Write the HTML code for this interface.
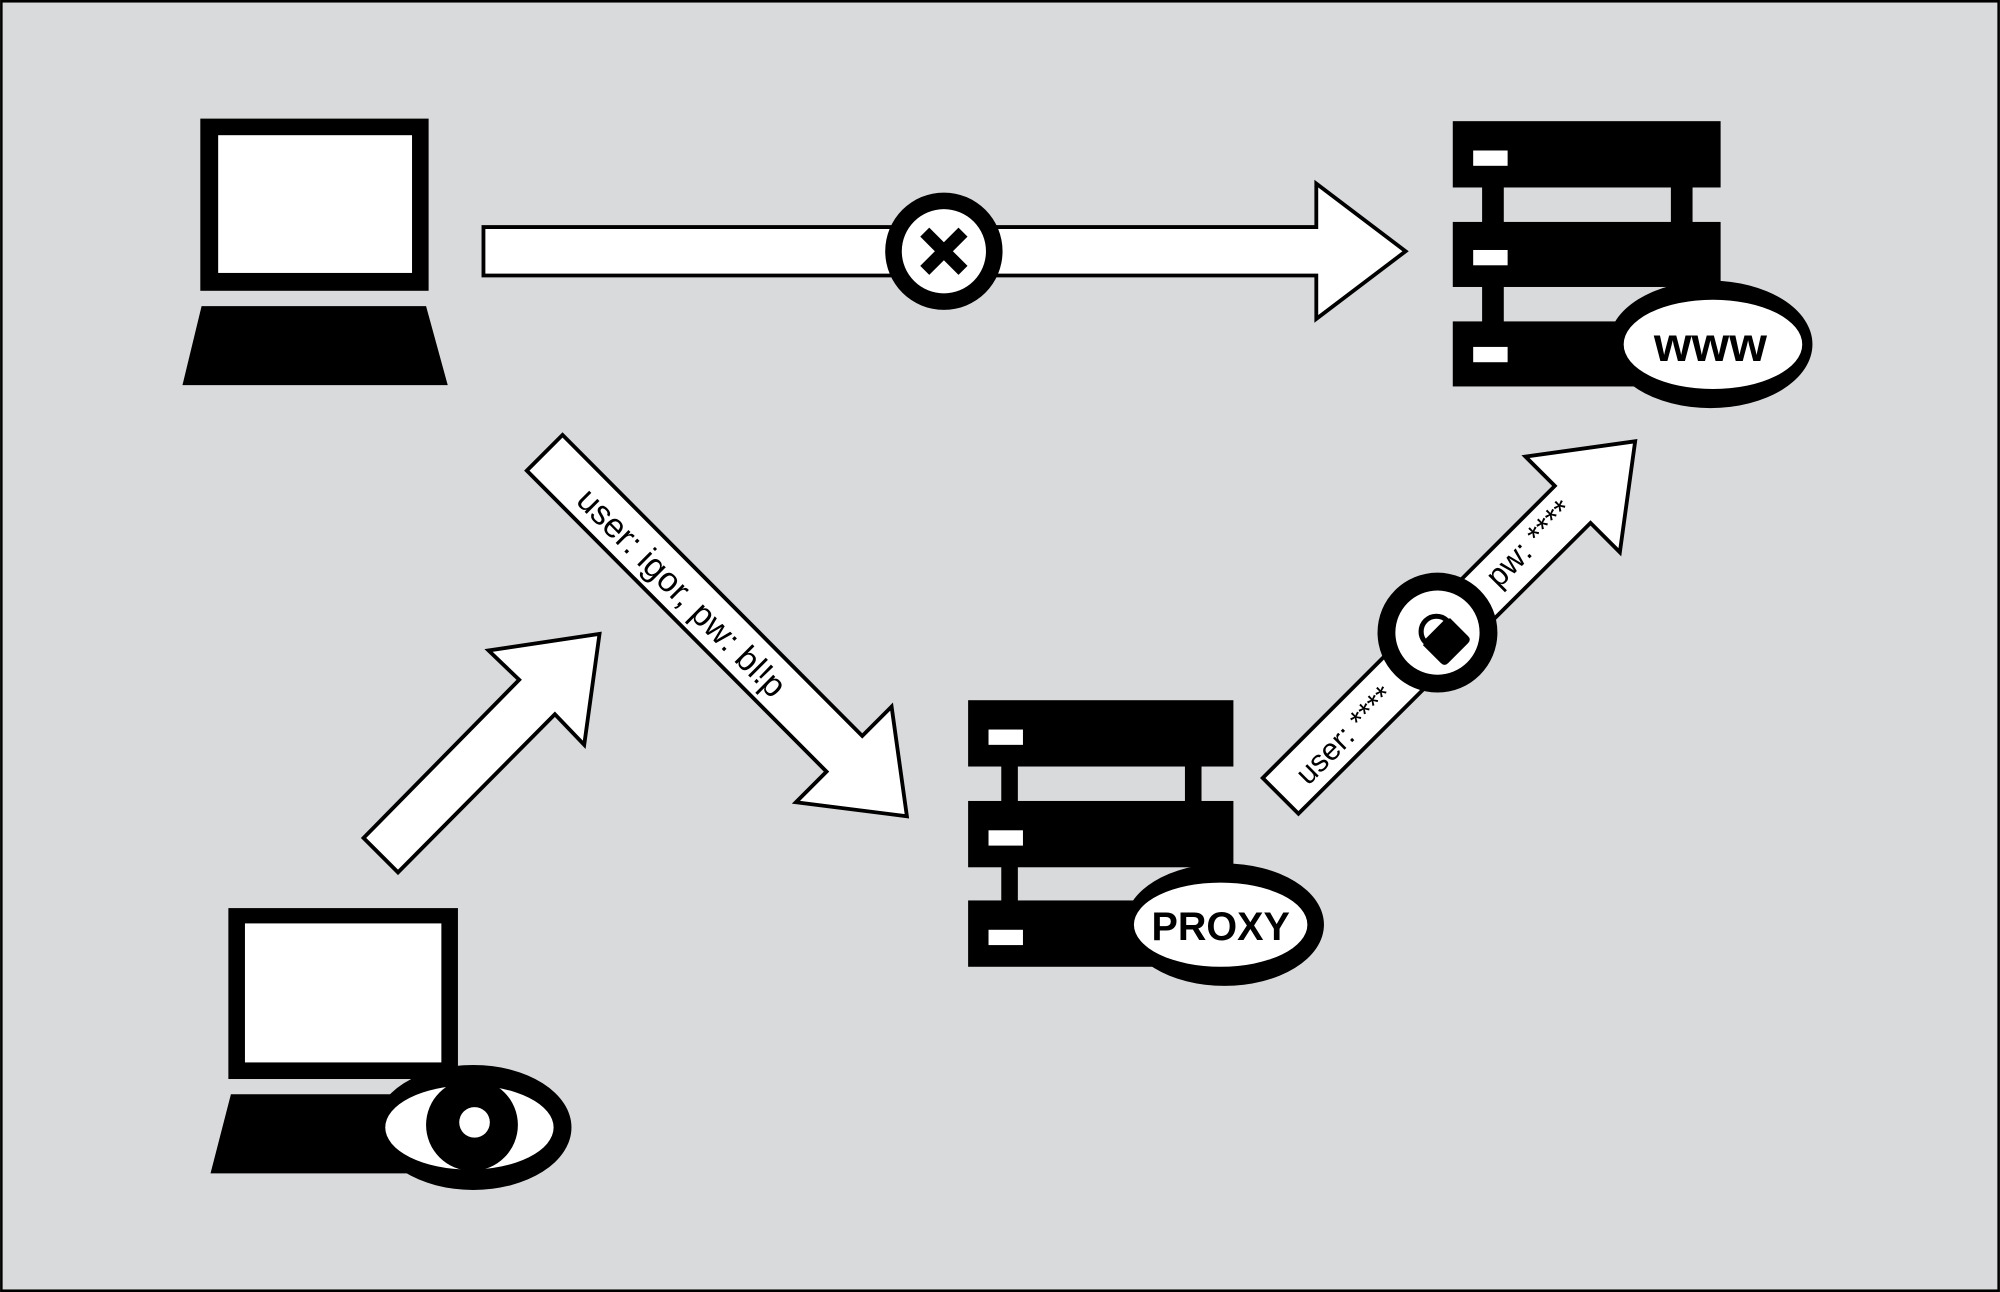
<!DOCTYPE html>
<html><head><meta charset="utf-8"><style>
html,body{margin:0;padding:0;background:#d9dadc;}
svg{display:block;}
</style></head><body>
<svg width="2000" height="1292" viewBox="0 0 1568 1013" xmlns="http://www.w3.org/2000/svg" font-family="'Liberation Sans', 'DejaVu Sans', sans-serif">
<rect x="1" y="1" width="1566" height="1011" fill="#d9dadc" stroke="#000" stroke-width="2"/>

<!-- laptop 1 -->
<rect x="157" y="93" width="179" height="135" fill="#000"/>
<rect x="171" y="106" width="152" height="108" fill="#fff"/>
<polygon points="158,240 334,240 351,302 143,302" fill="#000"/>

<!-- server top -->
<g fill="#000">
<rect x="1139" y="95" width="210" height="52"/>
<rect x="1139" y="174" width="210" height="51"/>
<rect x="1139" y="252" width="210" height="51"/>
<rect x="1162" y="145" width="17" height="110"/>
<rect x="1310" y="145" width="17" height="32"/>
</g>
<g fill="#fff">
<rect x="1155" y="118" width="27" height="12"/>
<rect x="1155" y="196" width="27" height="12"/>
<rect x="1155" y="272" width="27" height="12"/>
</g>
<ellipse cx="1341" cy="270" rx="80" ry="50" fill="#000"/>
<ellipse cx="1343" cy="270" rx="70" ry="35" fill="#fff"/>
<text x="1341" y="283" font-size="38" font-weight="bold" text-anchor="middle" fill="#000">www</text>

<!-- top arrow -->
<polygon points="379,178 1032,178 1032,144 1102,197 1032,250 1032,216 379,216" fill="#fff" stroke="#000" stroke-width="3"/>
<circle cx="740" cy="197" r="46" fill="#000"/>
<circle cx="740" cy="197" r="33" fill="#fff"/>
<g stroke="#000" stroke-width="10" stroke-linecap="butt">
<line x1="725" y1="182" x2="755" y2="212"/>
<line x1="755" y1="182" x2="725" y2="212"/>
</g>

<!-- proxy server -->
<g fill="#000">
<rect x="759" y="549" width="208" height="52"/>
<rect x="759" y="628" width="208" height="52"/>
<rect x="759" y="706" width="208" height="52"/>
<rect x="785" y="599" width="13" height="110"/>
<rect x="929" y="599" width="13" height="32"/>
</g>
<g fill="#fff">
<rect x="775" y="572" width="27" height="12"/>
<rect x="775" y="651" width="27" height="12"/>
<rect x="775" y="729" width="27" height="12"/>
</g>
<ellipse cx="960" cy="725" rx="78" ry="48" fill="#000"/>
<ellipse cx="957" cy="725" rx="68" ry="33" fill="#fff"/>
<text x="957" y="737" font-size="31" font-weight="bold" text-anchor="middle" fill="#000">PROXY</text>

<!-- laptop 2 -->
<rect x="179" y="712" width="180" height="134" fill="#000"/>
<rect x="192" y="724" width="154" height="109" fill="#fff"/>
<polygon points="181,858 357,858 372,920 165,920" fill="#000"/>
<ellipse cx="371" cy="884" rx="77" ry="49" fill="#000"/>
<ellipse cx="368" cy="884" rx="66" ry="33" fill="#fff"/>
<circle cx="370" cy="882" r="36" fill="#000"/>
<circle cx="372" cy="880" r="12" fill="#fff"/>

<!-- lower-left arrow -->
<polygon points="285,657 407,533 383,510 470,497 458,584 435,560 312,684" fill="#fff" stroke="#000" stroke-width="3"/>

<!-- diagonal down arrow -->
<polygon points="413,369 441,341 676,577 699,554 711,640 624,629 648,605" fill="#fff" stroke="#000" stroke-width="3"/>
<text transform="translate(528,471) rotate(45)" font-size="27" text-anchor="middle" fill="#000">user: igor, pw: bl!p</text>

<!-- right arrow -->
<polygon points="990,610 1219,381 1196,358 1282,346 1270,433 1247,410 1018,638" fill="#fff" stroke="#000" stroke-width="3"/>
<text transform="translate(1060,582) rotate(-45)" font-size="24" text-anchor="middle" fill="#000">user: ****</text>
<text transform="translate(1205,432) rotate(-45)" font-size="25" text-anchor="middle" fill="#000">pw: ****</text>
<circle cx="1127" cy="496" r="47" fill="#000"/>
<circle cx="1127" cy="496" r="33" fill="#fff"/>
<g transform="translate(1129,498) rotate(-45)">
<path d="M-12,-4 A12,12 0 0 1 12,-4 Z" fill="#fff" stroke="#000" stroke-width="4"/>
<path d="M-15,-4 L15,-4 L15,16 Q15,20 11,20 L-11,20 Q-15,20 -15,16 Z" fill="#000"/>
</g>
</svg>
</body></html>
